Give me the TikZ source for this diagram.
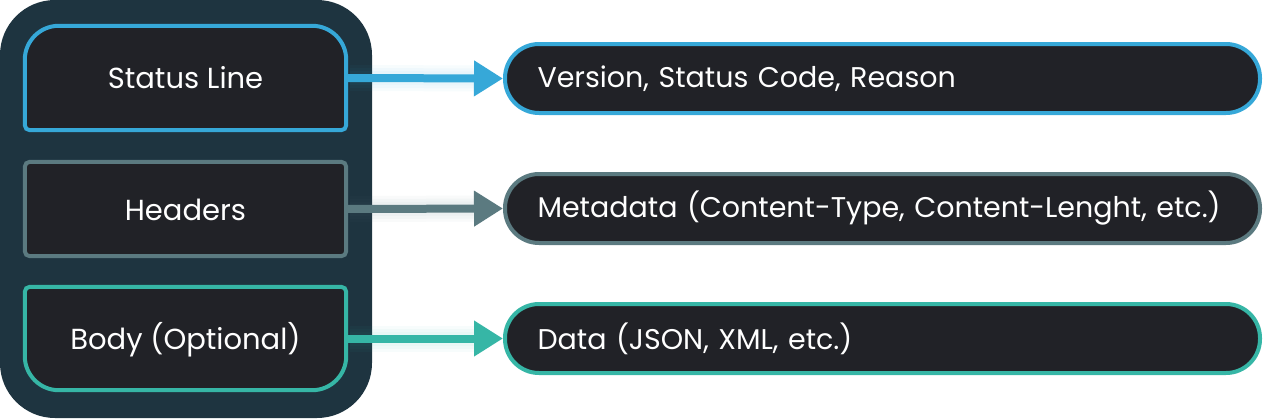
\documentclass[tikz,border=0pt]{standalone}
\usepackage{fontspec}
\setmainfont{Poppins}
\usetikzlibrary{arrows.meta}
\definecolor{cont}{HTML}{1E3440}
\definecolor{boxfill}{HTML}{212227}
\definecolor{cblue}{HTML}{36A8D8}
\definecolor{cgray}{HTML}{5B7A80}
\definecolor{cteal}{HTML}{36B6A6}
\tikzset{
  lbox/.style={minimum width=321pt, inner sep=0pt, text=white, font=\fontsize{29}{33}\selectfont},
  pill/.style={draw=#1, line width=4pt, fill=boxfill, rounded corners=34pt, minimum width=755pt, minimum height=69pt, text width=690pt, align=left, inner sep=0pt, text=white, font=\fontsize{28.5}{32}\selectfont},
  conn/.style={draw=#1, line width=8pt, -{Triangle[length=29pt,width=34pt]}},
  edge4/.style={line width=4pt, fill=boxfill},
}
\begin{document}
\begin{tikzpicture}[x=1pt,y=-1pt]
\useasboundingbox (0,0) rectangle (1265,418);
% container
\fill[cont, rounded corners=55pt] (0,0) rectangle (372,418);
% left boxes (placement nodes)
\node[lbox, minimum height=104pt] (sl) at (185.5,78) {};
\node[lbox, minimum height=94pt] (hd) at (185.5,209) {};
\node[lbox, minimum height=103pt] (bd) at (185.5,338.5) {};
% status line box: big top corners, small bottom corners
\draw[cblue, edge4] ([yshift=5pt]sl.south west) -- ([yshift=-34pt]sl.north west)
  arc[start angle=180, end angle=90, radius=34pt] -- ([xshift=-34pt]sl.north east)
  arc[start angle=90, end angle=0, radius=34pt] -- ([yshift=5pt]sl.south east)
  arc[start angle=0, end angle=-90, radius=5pt] -- ([xshift=5pt]sl.south west)
  arc[start angle=-90, end angle=-180, radius=5pt] -- cycle;
% headers box
\draw[cgray, edge4, rounded corners=5pt] (hd.south west) rectangle (hd.north east);
% body box: small top corners, big bottom corners
\draw[cteal, edge4] ([yshift=-5pt]bd.north west) -- ([yshift=34pt]bd.south west)
  arc[start angle=180, end angle=270, radius=34pt] -- ([xshift=-34pt]bd.south east)
  arc[start angle=270, end angle=360, radius=34pt] -- ([yshift=-5pt]bd.north east)
  arc[start angle=0, end angle=90, radius=5pt] -- ([xshift=5pt]bd.north west)
  arc[start angle=90, end angle=180, radius=5pt] -- cycle;
\node[lbox] at (185.5,78) {Status Line};
\node[lbox] at (185.5,210) {Headers};
\node[lbox] at (185.5,340) {Body (Optional)};
% pills
\node[pill=cblue] (p1) at (882.5,78.5) {Version, Status Code, Reason};
\node[pill=cgray] (p2) at (882.5,208.5) {Metadata (Content-Type, Content-Lenght, etc.)};
\node[pill=cteal] (p3) at (882.5,338.5) {Data (JSON, XML, etc.)};
% connectors with soft glow
\foreach \a/\b/\c in {sl/p1/cblue, hd/p2/cgray, bd/p3/cteal}{
  \foreach \w in {26,20,14}{
    \draw[\c, line width=\w pt, opacity=0.04, shorten >=24pt, shorten <=4pt] (\a.east) -- (\b.west);
  }
  \draw[conn=\c] (\a.east) -- (\b.west);
}
\end{tikzpicture}
\end{document}
